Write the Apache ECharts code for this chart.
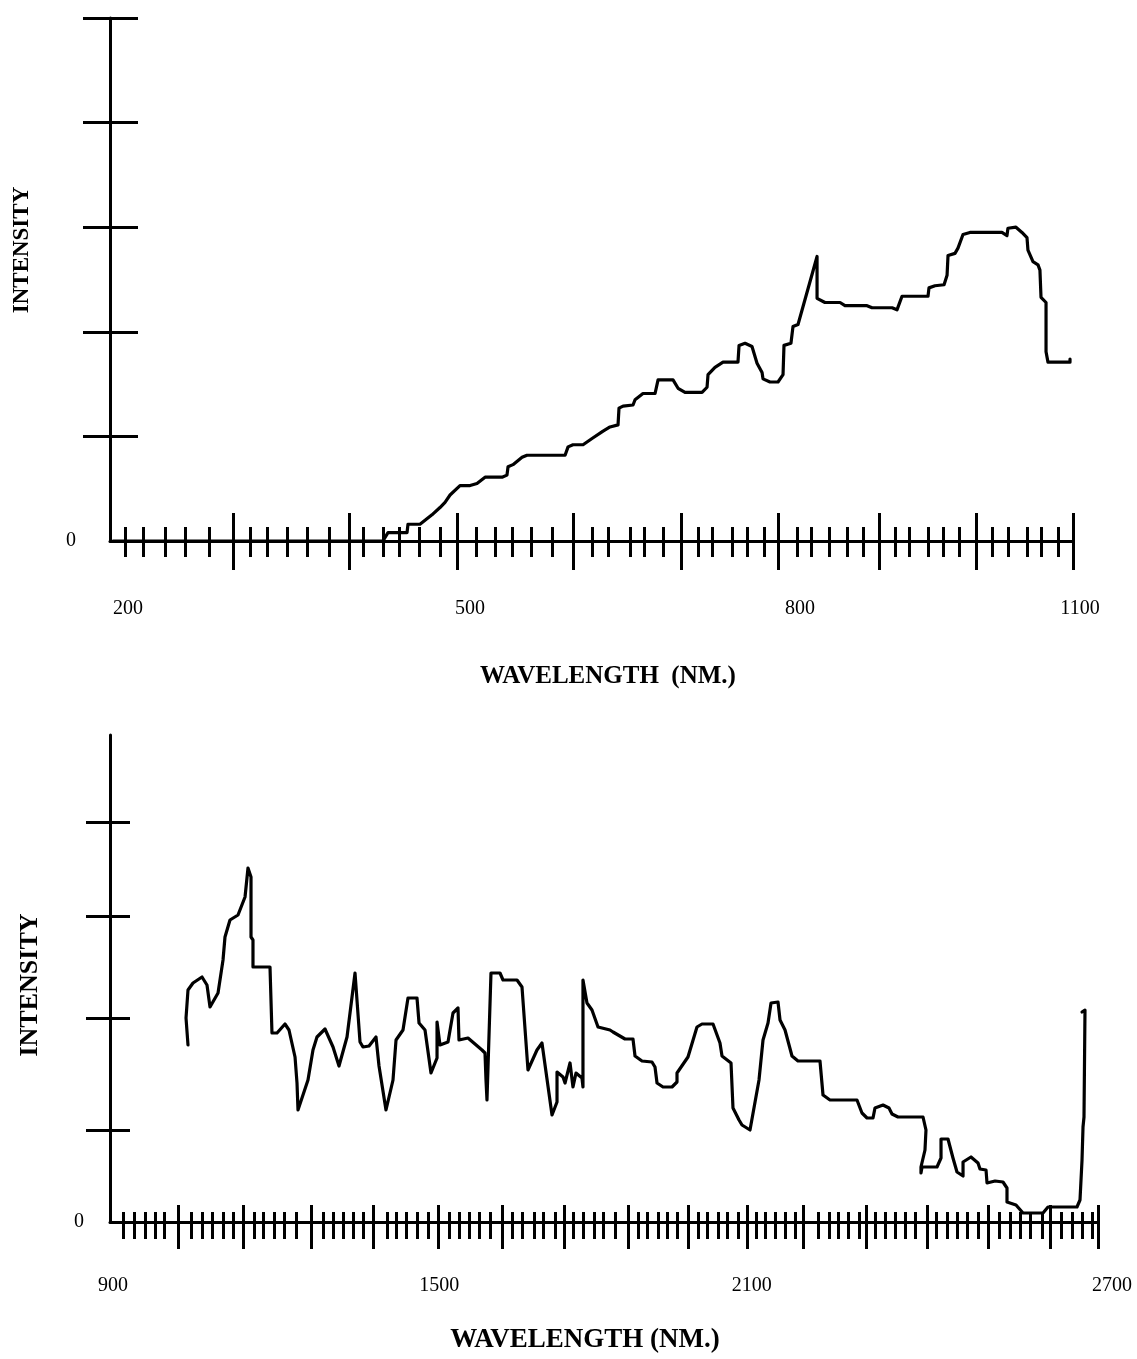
<!DOCTYPE html>
<html>
<head>
<meta charset="utf-8">
<script src="https://cdn.jsdelivr.net/npm/echarts@6/dist/echarts.min.js"></script>
<style>
html,body{margin:0;padding:0;background:#fff;}
#chart{width:1137px;height:1359px;}
</style>
</head>
<body>
<div id="chart"></div>
<script>
// ---------- Top panel (200-1100 nm) ----------
const topWavelength = [202.8,455.1,459.8,477.6,478.5,489.7,500.9,508.4,513.1,517.8,
527.1,536.5,543.0,550.5,566.4,571.0,572.0,576.6,585.1,589.7,
625.3,628.1,632.7,642.1,650.5,660.8,667.3,674.8,675.7,679.5,
688.8,690.7,698.1,709.4,712.2,726.2,730.9,737.4,753.3,758.0,
758.9,765.4,772.9,786.9,787.9,793.5,800.0,804.7,809.4,810.3,
816.8,824.3,829.0,829.9,836.4,838.3,843.0,860.8,860.8,868.2,
882.3,886.9,907.5,912.2,930.9,935.5,940.2,964.5,965.4,971.0,
979.5,982.3,983.2,989.7,992.5,997.2,1003.7,1033.6,1038.3,1039.2,
1046.7,1052.3,1057.0,1057.9,1062.6,1067.3,1069.1,1070.1,1074.8,1074.8,
1076.6,1097.2,1097.2];
const topIntensity = [0,0,0.08,0.08,0.16,0.16,0.25,0.32,0.37,0.44,
0.53,0.53,0.55,0.61,0.61,0.63,0.71,0.73,0.80,0.82,
0.82,0.90,0.92,0.92,0.98,1.05,1.09,1.11,1.27,1.29,
1.30,1.35,1.41,1.41,1.54,1.54,1.46,1.42,1.42,1.47,
1.59,1.66,1.71,1.71,1.87,1.89,1.86,1.70,1.61,1.55,
1.52,1.52,1.59,1.87,1.89,2.05,2.07,2.72,2.32,2.28,
2.28,2.25,2.25,2.23,2.23,2.21,2.34,2.34,2.42,2.44,
2.45,2.54,2.73,2.75,2.80,2.93,2.95,2.95,2.92,2.99,
3.00,2.95,2.90,2.78,2.67,2.64,2.59,2.33,2.28,1.81,
1.71,1.71,1.74];
const topXLabels = [200, 500, 800, 1100];
const topMajorTicks = [315.0,423.4,524.3,632.7,733.6,824.3,918.7,1009.3,1100];
const topMinorTicks = [214.0,230.8,251.4,270.1,292.5, 330.8,346.7,365.4,384.1,404.7,
436.4,455.1,470.1,488.8,508.4, 542.1,559.8,575.7,593.5,613.1,
650.5,665.4,686.0,699.1,716.8, 749.5,762.6,781.3,795.3,811.2,
842.0,855.1,871.9,888.7,903.7, 933.6,946.7,964.5,978.5,993.4,
1024.3,1039.3,1057.0,1070.1,1086.0];
const topYTicks = [1, 2, 3, 4, 5];

// ---------- Bottom panel (900-2700 nm) ----------
const botWavelength = [1042.1,1038.5,1042.1,1051.2,1067.6,1076.7,1082.2,1096.8,1105.9,1109.5,
1118.6,1133.2,1146.0,1151.4,1156.9,1156.9,1160.5,1160.5,1191.5,1195.1,
1204.3,1218.8,1226.1,1237.1,1240.7,1242.5,1260.7,1269.8,1277.1,1291.7,
1306.3,1317.2,1331.8,1346.4,1355.5,1360.9,1371.9,1384.6,1390.1,1402.8,
1415.6,1421.1,1433.8,1442.9,1459.3,1463.0,1473.9,1484.8,1495.8,1495.8,
1501.2,1515.8,1524.9,1534.0,1535.8,1552.2,1577.7,1583.2,1585.0,1586.8,
1588.7,1594.1,1610.5,1616.0,1641.5,1650.6,1661.5,1677.9,1687.0,1705.3,
1714.4,1714.4,1725.3,1729.0,1738.1,1743.5,1749.0,1759.9,1761.7,1761.7,
1769.0,1778.1,1789.1,1810.9,1816.4,1838.3,1852.8,1856.5,1869.2,1887.4,
1892.9,1896.6,1907.5,1923.9,1933.0,1933.0,1953.0,1969.4,1978.5,1998.6,
2011.3,2015.0,2031.4,2035.0,2046.0,2051.4,2066.0,2082.4,2089.7,2098.8,
2104.3,2117.0,2120.7,2129.8,2142.5,2153.4,2193.5,2199.0,2211.7,2260.9,
2270.0,2279.2,2290.1,2293.7,2308.3,2319.2,2324.7,2335.6,2381.2,2386.6,
2384.8,2377.5,2377.5,2379.4,2406.7,2414.0,2414.0,2426.7,2435.8,2443.1,
2454.1,2454.1,2468.6,2481.4,2485.0,2496.0,2497.8,2512.4,2526.9,2534.2,
2534.2,2550.6,2563.4,2599.8,2608.9,2661.7,2667.2,2670.9,2672.7,2674.5,
2676.3,2670.9];
const botIntensity = [1.77,2.04,2.32,2.39,2.45,2.37,2.15,2.29,2.62,2.85,
3.02,3.07,3.25,3.54,3.45,2.85,2.82,2.55,2.55,1.89,
1.89,1.98,1.92,1.65,1.39,1.12,1.42,1.72,1.85,1.93,
1.75,1.56,1.85,2.49,1.80,1.75,1.76,1.85,1.56,1.12,
1.42,1.82,1.92,2.24,2.24,1.99,1.92,1.49,1.64,2.00,
1.77,1.80,2.09,2.14,1.82,1.84,1.72,1.69,1.42,1.22,
1.55,2.49,2.49,2.42,2.42,2.35,1.52,1.72,1.79,1.07,
1.20,1.50,1.45,1.39,1.59,1.35,1.49,1.44,1.35,2.42,
2.19,2.12,1.95,1.92,1.90,1.83,1.83,1.66,1.61,1.60,
1.55,1.39,1.35,1.35,1.40,1.49,1.65,1.95,1.98,1.98,
1.79,1.66,1.59,1.14,1.02,0.97,0.92,1.42,1.82,1.99,
2.19,2.20,2.02,1.92,1.66,1.61,1.61,1.27,1.22,1.22,
1.09,1.04,1.04,1.14,1.17,1.14,1.08,1.05,1.05,0.92,
0.72,0.55,0.49,0.55,0.55,0.64,0.83,0.83,0.64,0.50,
0.46,0.60,0.65,0.59,0.53,0.52,0.39,0.41,0.40,0.34,
0.20,0.17,0.09,0.09,0.15,0.15,0.22,0.62,0.95,1.05,
2.12,2.10];
const botXLabels = [900, 1500, 2100, 2700];
const botMajorTicks = [1023.9,1142.3,1266.2,1379.2,1497.6,1614.2,1727.1,1843.7,1953.0,2060.5,
2162.6,2277.3,2388.5,2499.6,2612.6,2700];
const botMinorTicks = [923.7,943.7,963.8,982.0,998.4, 1047.6,1067.6,1085.8,1105.9,1124.1,
1162.4,1178.7,1198.8,1217.0,1238.9, 1288.1,1306.3,1324.5,1342.7,1360.9,
1404.7,1421.1,1439.3,1459.3,1479.4, 1517.6,1535.8,1554.1,1572.3,1592.3,
1632.4,1650.6,1672.5,1688.9,1710.7, 1743.5,1761.7,1781.8,1798.2,1820.0,
1862.0,1878.3,1898.4,1914.8,1933.0, 1971.3,1987.7,2007.7,2024.1,2044.1,
2076.9,2093.3,2111.5,2129.8,2148.0, 2189.9,2209.9,2226.3,2244.5,2264.6,
2293.7,2312.0,2330.2,2348.4,2366.6, 2404.9,2424.9,2443.1,2461.3,2481.4,
2519.6,2539.7,2557.9,2576.1,2598.0, 2632.6,2652.6,2670.9,2689.1];
const botYTicks = [0.92, 2.04, 3.06, 4.0];

// ---------- build ----------
const FONT = '"Liberation Serif", "DejaVu Serif", serif';
const INK = '#000';

function tickAxis(grid, min, max, ticks, len, inside, width) {
  return {
    type: 'value', gridIndex: grid, position: 'bottom', offset: 0,
    min: min, max: max,
    axisLine: { show: false, onZero: false },
    axisTick: { show: true, inside: inside, length: len, customValues: ticks,
                lineStyle: { color: INK, width: width } },
    axisLabel: { show: false },
    splitLine: { show: false }
  };
}

function labelAxis(grid, min, max, labels, shifts, margin) {
  const rich = {};
  labels.forEach((v, i) => {
    const s = shifts[i];
    rich['l' + i] = {
      fontFamily: FONT, fontSize: 20, color: INK,
      padding: s >= 0 ? [0, 0, 0, 2 * s] : [0, -2 * s, 0, 0]
    };
  });
  return {
    type: 'value', gridIndex: grid, position: 'bottom', offset: 0,
    min: min, max: max,
    axisLine: { show: true, onZero: false, lineStyle: { color: INK, width: 3 } },
    axisTick: { show: false },
    splitLine: { show: false },
    axisLabel: {
      show: true, customValues: labels, margin: margin,
      fontFamily: FONT, fontSize: 20, color: INK,
      formatter: (v) => { const i = labels.indexOf(v); return '{l' + i + '|' + v + '}'; },
      rich: rich
    }
  };
}

function yAxes(grid, max, ticks, lenOut, lenIn, zeroMargin) {
  return [
    { type: 'value', gridIndex: grid, position: 'left', min: 0, max: max,
      axisLine: { show: true, onZero: false, lineStyle: { color: INK, width: 3 } },
      axisTick: { show: true, inside: false, length: lenOut, customValues: ticks,
                  lineStyle: { color: INK, width: 3 } },
      axisLabel: { show: true, customValues: [0], formatter: () => '0', margin: zeroMargin,
                   fontFamily: FONT, fontSize: 20, color: INK },
      splitLine: { show: false } },
    { type: 'value', gridIndex: grid, position: 'left', min: 0, max: max,
      axisLine: { show: false, onZero: false },
      axisTick: { show: true, inside: true, length: lenIn, customValues: ticks,
                  lineStyle: { color: INK, width: 3 } },
      axisLabel: { show: false },
      splitLine: { show: false } }
  ];
}

const option = {
  animation: false,
  backgroundColor: '#fff',
  grid: [
    { left: 110, right: 64, top: 18, bottom: 818 },
    { left: 110, right: 39, top: 735, bottom: 137 }
  ],
  xAxis: [
    labelAxis(0, 200, 1100, topXLabels, [18, 39, 48, 7], 58),
    tickAxis(0, 200, 1100, topMajorTicks, 29, false, 3),
    tickAxis(0, 200, 1100, topMajorTicks, 28, true, 3),
    tickAxis(0, 200, 1100, topMinorTicks, 16, false, 3),
    tickAxis(0, 200, 1100, topMinorTicks, 14, true, 3),
    labelAxis(1, 900, 2700, botXLabels, [3, 0, -17, 14], 54),
    tickAxis(1, 900, 2700, botMajorTicks, 27, false, 3),
    tickAxis(1, 900, 2700, botMajorTicks, 17, true, 3),
    tickAxis(1, 900, 2700, botMinorTicks, 17, false, 3),
    tickAxis(1, 900, 2700, botMinorTicks, 10, true, 3)
  ],
  yAxis: [].concat(
    yAxes(0, 5, topYTicks, 27, 28, 34),
    yAxes(1, 4.87, botYTicks, 24, 20, 26)
  ),
  series: [
    { type: 'line', xAxisIndex: 0, yAxisIndex: 0, showSymbol: false, symbol: 'none',
      data: topWavelength.map((w, i) => [w, topIntensity[i]]),
      lineStyle: { color: INK, width: 3.2, join: 'round', cap: 'round' } },
    { type: 'line', xAxisIndex: 5, yAxisIndex: 2, showSymbol: false, symbol: 'none',
      data: botWavelength.map((w, i) => [w, botIntensity[i]]),
      lineStyle: { color: INK, width: 3.2, join: 'round', cap: 'round' } }
  ],
  graphic: [
    { type: 'text', x: 608, y: 677, style: { text: 'WAVELENGTH  (NM.)', fill: INK,
      font: 'bold 25px ' + FONT, textAlign: 'center', textVerticalAlign: 'middle' } },
    { type: 'text', x: 585, y: 1340, style: { text: 'WAVELENGTH (NM.)', fill: INK,
      font: 'bold 27px ' + FONT, textAlign: 'center', textVerticalAlign: 'middle' } },
    { type: 'text', x: 22, y: 250, rotation: Math.PI / 2, style: { text: 'INTENSITY', fill: INK,
      font: 'bold 23px ' + FONT, textAlign: 'center', textVerticalAlign: 'middle' } },
    { type: 'text', x: 30, y: 985, rotation: Math.PI / 2, style: { text: 'INTENSITY', fill: INK,
      font: 'bold 26px ' + FONT, textAlign: 'center', textVerticalAlign: 'middle' } }
  ]
};

const chart = echarts.init(document.getElementById('chart'), null, { renderer: 'canvas' });
chart.setOption(option);
</script>
</body>
</html>
